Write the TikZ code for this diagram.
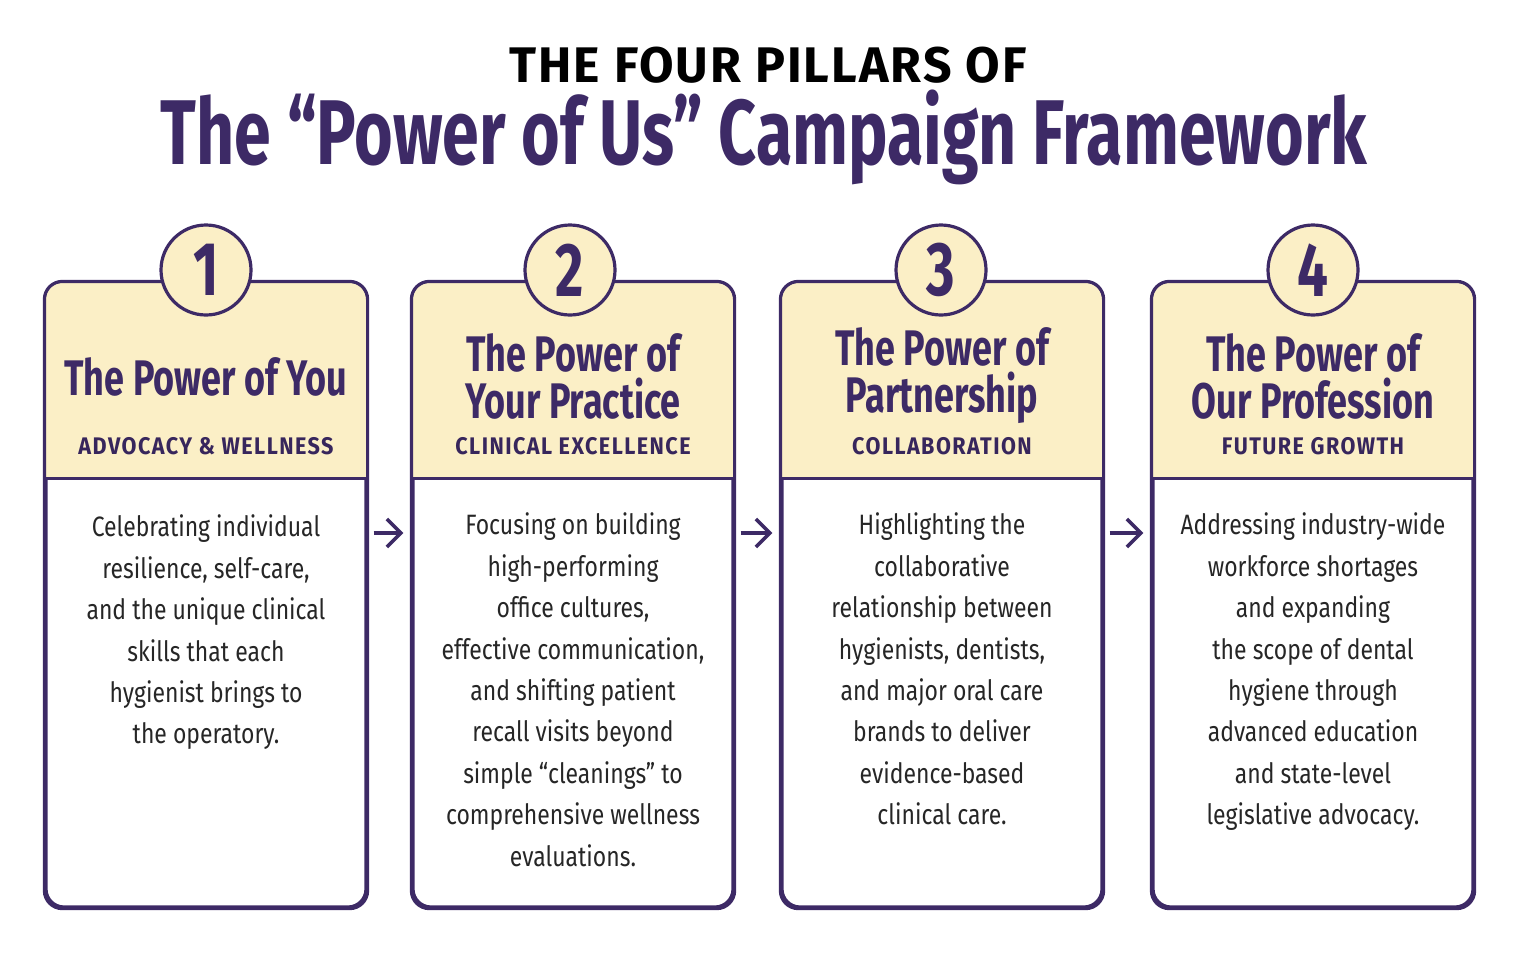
\documentclass[tikz,border=0pt]{standalone}
\usepackage{fontspec}
\setmainfont{Fira Sans}
\newfontfamily\condfont[FakeStretch=0.72]{Fira Sans}
\newfontfamily\bodyfont[FakeStretch=0.82]{Fira Sans}
\newfontfamily\subfont[FakeStretch=0.9,LetterSpace=6]{Fira Sans}
\newfontfamily\topfont[LetterSpace=4]{Fira Sans}
\usetikzlibrary{arrows.meta,positioning}
\definecolor{pillarpurple}{HTML}{3D2A66}
\definecolor{pillaryellow}{HTML}{FBEFC6}
\begin{document}
\begin{tikzpicture}[
		x=0.5pt, y=-0.5pt,
		card/.style={draw=pillarpurple, line width=1.6pt, rounded corners=9pt, minimum width=160pt, minimum height=312pt, inner sep=0pt},
		badge/.style={circle, draw=pillarpurple, line width=1.6pt, fill=pillaryellow, minimum size=45pt, inner sep=0pt, font=\condfont\bfseries\fontsize{38}{38}\selectfont, text=pillarpurple},
		heading/.style={align=center, font=\condfont\bfseries\fontsize{25}{23.5}\selectfont, text=pillarpurple},
		subhead/.style={font=\subfont\bfseries\fontsize{12}{12}\selectfont, text=pillarpurple!90!black},
		body/.style={align=center, font=\bodyfont\fontsize{14}{20.7}\selectfont, text=black!85},
		link/.style={draw=pillarpurple, line width=1.8pt, -{Straight Barb[length=7pt,width=14pt]}, shorten <=3pt, shorten >=4pt},
	]
		\useasboundingbox (0,0) rectangle (1524,953);

		\node (title top) at (768,65) {\topfont\bfseries\fontsize{25}{25}\selectfont THE FOUR PILLARS OF};
		\node (title main) [text=pillarpurple] at (764,137) {\condfont\bfseries\fontsize{46}{46}\selectfont The “Power of Us” Campaign Framework};

		% cards
		\node (card1) [card] at (206,595) {};
		\node (card2) [card] at (573,595) {};
		\node (card3) [card] at (942,595) {};
		\node (card4) [card] at (1313,595) {};

		% yellow headers
		\foreach \c in {card1,card2,card3,card4} {
			\fill[pillaryellow, rounded corners=8pt] ([shift={(0.8pt,-98.5pt)}]\c.north west) -- ([shift={(0.8pt,-0.8pt)}]\c.north west) -- ([shift={(-0.8pt,-0.8pt)}]\c.north east) [sharp corners] -- ([shift={(-0.8pt,-98.5pt)}]\c.north east) -- cycle;
			\draw[pillarpurple, line width=1.6pt] ([yshift=-98.5pt]\c.north west) -- ([yshift=-98.5pt]\c.north east);
			\draw[card] (\c.south west) rectangle (\c.north east);
		}

		\node (badge1) [badge] at (206,270) {1};
		\node (badge2) [badge] at (570,270) {2};
		\node (badge3) [badge] at (941,270) {3};
		\node (badge4) [badge] at (1313,270) {4};

		\node (head1) [heading] at (206,377) {The Power of You};
		\node (head2) [heading] at (573,376) {The Power of\\Your Practice};
		\node (head3) [heading] at (942,376) {The Power of\\Partnership};
		\node (head4) [heading] at (1313,376) {The Power of\\Our Profession};

		\node (sub1) [subhead] at (206,446) {ADVOCACY \& WELLNESS};
		\node (sub2) [subhead] at (573,446) {CLINICAL EXCELLENCE};
		\node (sub3) [subhead] at (942,446) {COLLABORATION};
		\node (sub4) [subhead] at (1313,446) {FUTURE GROWTH};

		\node (text1) [body, anchor=north] at (206,508) {Celebrating individual\\resilience, self-care,\\and the unique clinical\\skills that each\\hygienist brings to\\the operatory.};
		\node (text2) [body, anchor=north] at (573,506) {Focusing on building\\high-performing\\office cultures,\\effective communication,\\and shifting patient\\recall visits beyond\\simple “cleanings” to\\comprehensive wellness\\evaluations.};
		\node (text3) [body, anchor=north] at (942,506) {Highlighting the\\collaborative\\relationship between\\hygienists, dentists,\\and major oral care\\brands to deliver\\evidence-based\\clinical care.};
		\node (text4) [body, anchor=north] at (1313,506) {Addressing industry-wide\\workforce shortages\\and expanding\\the scope of dental\\hygiene through\\advanced education\\and state-level\\legislative advocacy.};

		\draw[link] ([yshift=31pt]card1.east) -- ([yshift=31pt]card2.west);
		\draw[link] ([yshift=31pt]card2.east) -- ([yshift=31pt]card3.west);
		\draw[link] ([yshift=31pt]card3.east) -- ([yshift=31pt]card4.west);
	\end{tikzpicture}
\end{document}
